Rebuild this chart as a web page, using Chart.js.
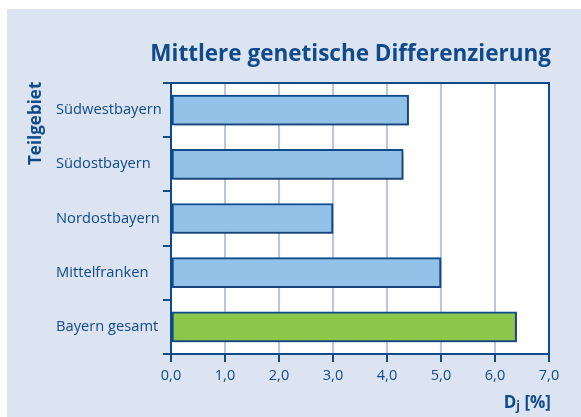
<!DOCTYPE html>
<html>
<head>
<meta charset="utf-8">
<script src="https://cdn.jsdelivr.net/npm/chart.js@4/dist/chart.umd.min.js"></script>
<style>
  html, body { margin: 0; padding: 0; background: #ffffff; }
  #c { display: block; }
</style>
</head>
<body>
<canvas id="c" width="581" height="417"></canvas>
<script>
var regions = ['Südwestbayern', 'Südostbayern', 'Nordostbayern', 'Mittelfranken', 'Bayern gesamt'];
var diffValues = [4.4, 4.3, 3.0, 5.0, 6.4];
var barColors = ['#93c2e9', '#93c2e9', '#93c2e9', '#93c2e9', '#8cc64b'];
var xTicks = [0, 1, 2, 3, 4, 5, 6, 7];

var navy = '#0f4a8a';
var textFont = "'Open Sans', 'Noto Sans', sans-serif";

// panel background, frame, titles
var decoPlugin = {
    id: 'deco',
    beforeDraw: function(chart) {
        let ctx = chart.ctx;
        ctx.save();
        ctx.fillStyle = '#dce3f1';
        ctx.fillRect(7, 9, 574, 408);
        let a = chart.chartArea;
        ctx.fillStyle = '#ffffff';
        ctx.fillRect(a.left, a.top, a.right - a.left, a.bottom - a.top);
        ctx.restore();
    },
    afterDraw: function(chart) {
        let ctx = chart.ctx;
        let a = chart.chartArea;
        ctx.save();
        ctx.strokeStyle = navy;
        ctx.lineWidth = 2;
        ctx.beginPath();
        ctx.moveTo(a.left - 8, a.top);
        ctx.lineTo(a.right, a.top);
        ctx.lineTo(a.right, a.bottom + 8);
        ctx.stroke();

        ctx.fillStyle = navy;
        ctx.font = 'bold 22.5px ' + textFont;
        ctx.textAlign = 'right';
        ctx.textBaseline = 'alphabetic';
        ctx.fillText('Mittlere genetische Differenzierung', a.right + 2, 61);

        // x axis title with subscript
        ctx.font = 'bold 17px ' + textFont;
        ctx.textAlign = 'left';
        let rest = ' [%]';
        let wRest = ctx.measureText(rest).width;
        ctx.font = 'bold 12px ' + textFont;
        let wSub = ctx.measureText('j').width;
        ctx.font = 'bold 17px ' + textFont;
        let wD = ctx.measureText('D').width;
        let x0 = a.right + 2 - wRest - wSub - wD;
        ctx.fillText('D', x0, 408);
        ctx.font = 'bold 12px ' + textFont;
        ctx.fillText('j', x0 + wD, 410);
        ctx.font = 'bold 17px ' + textFont;
        ctx.fillText(rest, x0 + wD + wSub, 408);

        // y axis title, top aligned
        ctx.translate(41, 165);
        ctx.rotate(-Math.PI / 2);
        ctx.font = 'bold 17px ' + textFont;
        ctx.textAlign = 'left';
        ctx.fillText('Teilgebiet', 0, 0);
        ctx.restore();
    }
};

var shadowPlugin = {
    id: 'barShadow',
    beforeDatasetsDraw: function(chart) {
        let ctx = chart.ctx;
        ctx.save();
        ctx.shadowColor = 'rgba(40, 60, 100, 0.35)';
        ctx.shadowOffsetX = 2;
        ctx.shadowOffsetY = 2;
        ctx.shadowBlur = 1;
    },
    afterDatasetsDraw: function(chart) {
        chart.ctx.restore();
    }
};

new Chart(document.getElementById('c'), {
    type: 'bar',
    data: {
        labels: regions,
        datasets: [{
            data: diffValues,
            backgroundColor: barColors,
            borderColor: navy,
            borderWidth: 2,
            borderSkipped: false,
            barThickness: 30
        }]
    },
    plugins: [decoPlugin, shadowPlugin],
    options: {
        indexAxis: 'y',
        responsive: false,
        animation: false,
        events: [],
        layout: {
            padding: { left: 56, top: 83, right: 32, bottom: 0 }
        },
        scales: {
            x: {
                min: 0,
                max: 7,
                afterFit: function(scale) { scale.height = 63; },
                afterBuildTicks: function(scale) {
                    scale.ticks = xTicks.map(function(v) { return { value: v }; });
                },
                grid: {
                    color: '#b6c8e0',
                    lineWidth: 2,
                    tickColor: navy,
                    tickWidth: 2,
                    tickLength: 8
                },
                border: { color: navy, width: 2 },
                ticks: {
                    color: navy,
                    padding: 5,
                    font: { size: 14.5, family: textFont },
                    callback: function(v) { return v.toFixed(1).replace('.', ','); }
                }
            },
            y: {
                afterFit: function(scale) { scale.width = 115; },
                grid: {
                    drawOnChartArea: false,
                    color: navy,
                    lineWidth: 2,
                    tickLength: 8
                },
                border: { color: navy, width: 2 },
                ticks: {
                    color: navy,
                    crossAlign: 'far',
                    font: { size: 14.7, family: textFont }
                }
            }
        },
        plugins: {
            legend: { display: false },
            tooltip: { enabled: false }
        }
    }
});
</script>
</body>
</html>
